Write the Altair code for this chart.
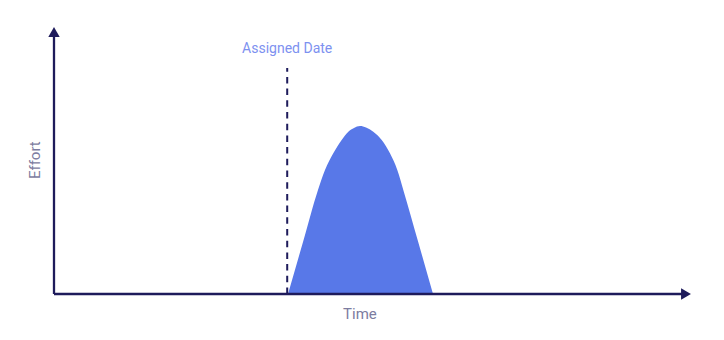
import altair as alt
import pandas as pd

# Effort curve (time in 0..100 units, effort in 0..100 units)
curve_time = [37.03, 39.40, 41.77, 42.88, 44.19, 45.52, 46.57, 47.47, 48.42,
              49.37, 50.52, 51.85, 53.16, 54.32, 55.27, 57.63, 59.97]
curve_effort = [0.0, 19.85, 39.69, 47.33, 53.70, 58.78, 61.95, 63.36, 64.12,
                63.55, 61.95, 58.78, 53.70, 47.33, 39.69, 19.85, 0.0]

assigned_time = 36.9
assigned_top = 86.3

axis_end = 100

NAVY = "#1e1b5b"
BLUE = "#5878e8"
LABEL_BLUE = "#7d91f0"
TITLE_GREY = "#7c7ca0"

X = dict(scale=alt.Scale(domain=[0, 100], nice=False, zero=False), axis=None)
Y = dict(scale=alt.Scale(domain=[0, 100], nice=False, zero=False), axis=None)

curve_df = pd.DataFrame({"t": curve_time, "e": curve_effort})

area = alt.Chart(curve_df).mark_area(
    interpolate="monotone", color=BLUE, opacity=1
).encode(x=alt.X("t:Q", **X), y=alt.Y("e:Q", **Y))

dash_df = pd.DataFrame({"t": [assigned_time], "e": [0.0], "e2": [assigned_top]})
dash = alt.Chart(dash_df).mark_rule(
    color=NAVY, strokeWidth=2, strokeDash=[6.5, 5.2]
).encode(x=alt.X("t:Q", **X), y=alt.Y("e:Q", **Y), y2="e2:Q")

xaxis_df = pd.DataFrame({"t": [0.0], "t2": [axis_end], "e": [0.0]})
xaxis = alt.Chart(xaxis_df).mark_rule(color=NAVY, strokeWidth=2.3).encode(
    x=alt.X("t:Q", **X), x2="t2:Q", y=alt.Y("e:Q", **Y)
)

yaxis_df = pd.DataFrame({"t": [0.0], "e": [0.0], "e2": [axis_end]})
yaxis = alt.Chart(yaxis_df).mark_rule(color=NAVY, strokeWidth=2.3).encode(
    x=alt.X("t:Q", **X), y=alt.Y("e:Q", **Y), y2="e2:Q"
)

xarrow = alt.Chart(pd.DataFrame({"t": [axis_end], "e": [0.0]})).mark_point(
    shape="triangle-right", filled=True, size=130, color=NAVY, opacity=1
).encode(x=alt.X("t:Q", **X), y=alt.Y("e:Q", **Y))

yarrow = alt.Chart(pd.DataFrame({"t": [0.0], "e": [axis_end]})).mark_point(
    shape="triangle-up", filled=True, size=130, color=NAVY, opacity=1
).encode(x=alt.X("t:Q", **X), y=alt.Y("e:Q", **Y))

assigned_label = alt.Chart(
    pd.DataFrame({"t": [36.9], "e": [92.0], "label": ["Assigned Date"]})
).mark_text(
    font="Roboto", fontSize=14, color=LABEL_BLUE, align="center", baseline="alphabetic"
).encode(x=alt.X("t:Q", **X), y=alt.Y("e:Q", **Y), text="label:N")

time_label = alt.Chart(
    pd.DataFrame({"t": [48.4], "e": [-9.7], "label": ["Time"]})
).mark_text(
    font="Roboto", fontSize=15, color=TITLE_GREY, align="center", baseline="alphabetic"
).encode(x=alt.X("t:Q", **X), y=alt.Y("e:Q", **Y), text="label:N")

effort_label = alt.Chart(
    pd.DataFrame({"t": [-2.14], "e": [51.1], "label": ["Effort"]})
).mark_text(
    font="Roboto", fontSize=15, color=TITLE_GREY, align="center",
    baseline="alphabetic", angle=270
).encode(x=alt.X("t:Q", **X), y=alt.Y("e:Q", **Y), text="label:N")

chart = alt.layer(
    area, dash, xaxis, yaxis, xarrow, yarrow, assigned_label, time_label, effort_label
).properties(
    width=632,
    height=262,
    autosize=alt.AutoSizeParams(type="none"),
    padding={"left": 54, "top": 32, "right": 38, "bottom": 46},
    background="white",
).configure_view(stroke=None)

chart.save("out.html", embed_options={"renderer": "svg", "actions": False})
